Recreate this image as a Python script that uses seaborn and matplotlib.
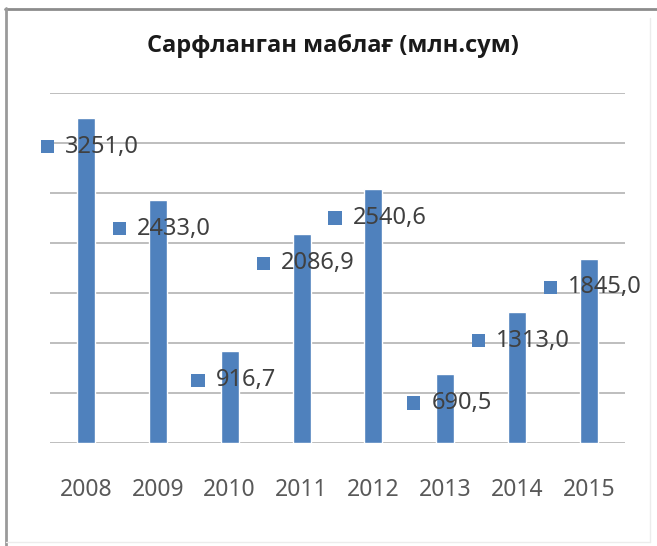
import numpy as np
import pandas as pd
import matplotlib
matplotlib.use("Agg")
import matplotlib.pyplot as plt
from matplotlib.lines import Line2D
from matplotlib.patches import Rectangle
from matplotlib.offsetbox import HPacker, TextArea, DrawingArea, AnnotationBbox
import seaborn as sns

# Spending per year (million sum)
years = ["2008", "2009", "2010", "2011", "2012", "2013", "2014", "2015"]
spent = [3251.0, 2433.0, 916.7, 2086.9, 2540.6, 690.5, 1313.0, 1845.0]
title = "Сарфланган маблағ (млн.сум)"

BLUE = "#4F81BD"
GRID = "#b3b3b3"
LABEL_COLOR = "#404040"
TICK_COLOR = "#595959"

sns.set_theme(style="white")
plt.rcParams["font.family"] = ["Noto Sans", "DejaVu Sans"]

df = pd.DataFrame({"year": years, "value": spent})

W, H = 657, 546
fig = plt.figure(figsize=(W / 100, H / 100), dpi=100)
fig.patch.set_facecolor("white")

ax = fig.add_axes([50 / W, 1 - 443 / H, 575 / W, 350 / H])
sns.barplot(data=df, x="year", y="value", color=BLUE, saturation=1,
            width=0.25, ax=ax, errorbar=None)

ax.set_ylim(0, 3500)
ax.set_yticks(np.arange(0, 3501, 500))
ax.yaxis.grid(True, color=GRID, lw=1.2)
ax.set_axisbelow(True)
ax.set_yticklabels([])
ax.set_xlabel("")
ax.set_ylabel("")
ax.tick_params(axis="both", length=0)
ax.tick_params(axis="x", pad=25, labelsize=16.5, labelcolor=TICK_COLOR)
for s in ax.spines.values():
    s.set_visible(False)

# Data labels: a small legend key followed by the value, just below each bar top
for i, v in enumerate(spent):
    key = DrawingArea(9.5, 9.5, 0, 0)
    key.add_artist(Rectangle((0, 0), 9.5, 9.5, fc=BLUE, ec="none"))
    txt = TextArea(f"{v:.1f}".replace(".", ","),
                   textprops=dict(color=LABEL_COLOR, fontsize=17))
    pack = HPacker(children=[key, txt], align="center", pad=0, sep=8)
    ab = AnnotationBbox(pack, (i, v), xybox=(4, -29), xycoords="data",
                        boxcoords="offset pixels", frameon=False,
                        box_alignment=(0.5, 0.5), pad=0)
    ax.add_artist(ab)

fig.text(333 / W, 1 - 46 / H, title, ha="center", va="center",
         fontsize=17, fontweight="bold", color="#1a1a1a",
         family=["Open Sans", "DejaVu Sans"])

# Chart frame
def fline(x0, y0, x1, y1, color, lw):
    fig.add_artist(Line2D([x0 / W, x1 / W], [1 - y0 / H, 1 - y1 / H],
                          transform=fig.transFigure, color=color, lw=lw))

fline(5, 8.5, W, 8.5, "#8c8c8c", 2)
fline(6, 8, 6, H, "#9a9a9a", 2)
fline(650, 18, 650, 542, "#ececec", 1)
fline(6, 542, 650, 542, "#ececec", 1)

fig.savefig("out.png", dpi=100)
